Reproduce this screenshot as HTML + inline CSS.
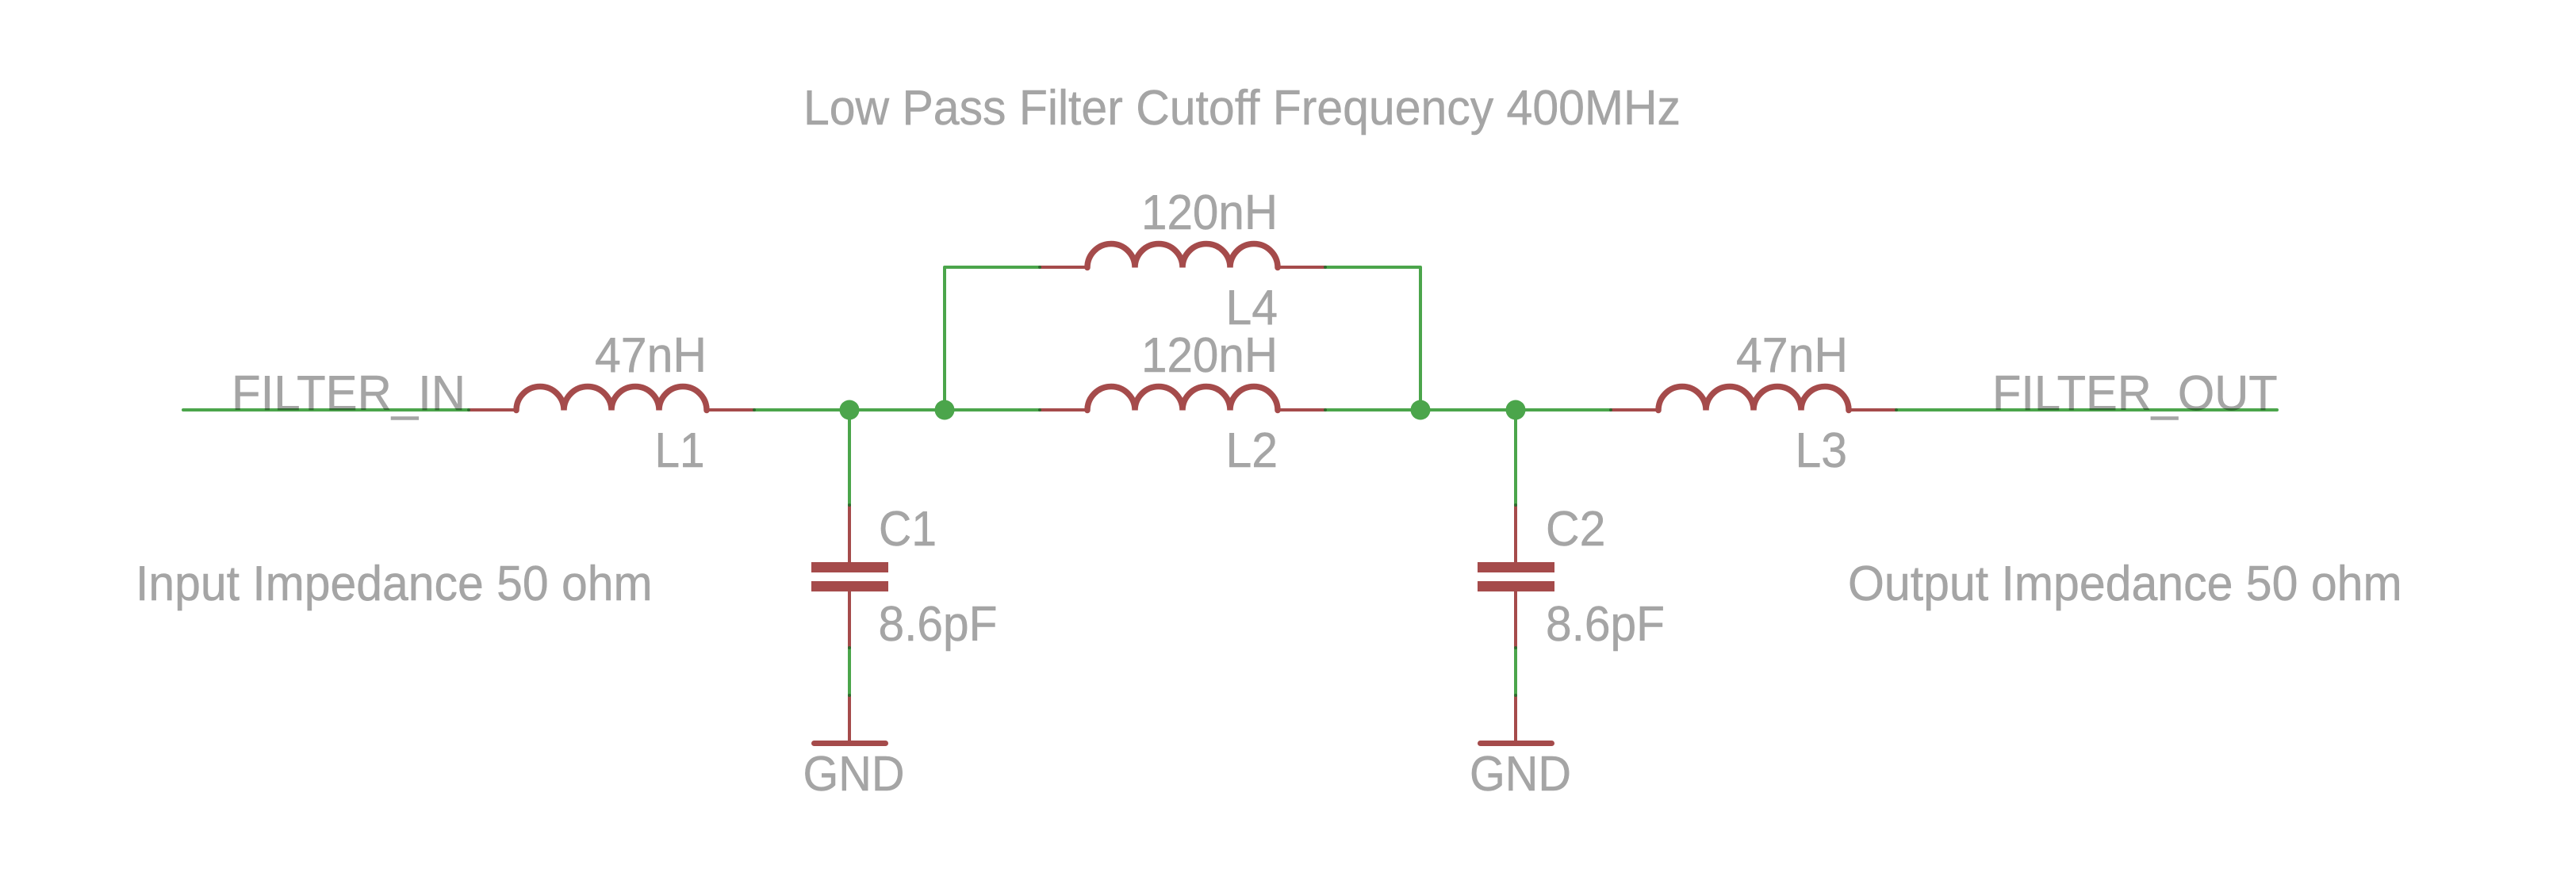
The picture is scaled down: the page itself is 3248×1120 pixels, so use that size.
<!DOCTYPE html>
<html><head><meta charset="utf-8"><style>
html,body{margin:0;padding:0;background:#fff;width:3248px;height:1120px;overflow:hidden}
svg{display:block}
text{font-family:"Liberation Sans",Arial,sans-serif;font-size:62px;fill:#a5a5a5;stroke:#a5a5a5;stroke-width:.5;mix-blend-mode:multiply}
.g{stroke:#4ba54b;stroke-width:4;fill:none;stroke-linecap:round;stroke-linejoin:round}
.r{stroke:#a54b4b;stroke-width:4;fill:none}
.c{stroke:#a54b4b;stroke-width:7.5;fill:none;stroke-linecap:round}
.d{fill:#306b30}
.j{fill:#4ba54b}
.p{fill:#a54b4b}
</style></head><body>
<svg xmlns="http://www.w3.org/2000/svg" width="3248" height="1120" viewBox="0 0 3248 1120">
<rect width="3248" height="1120" fill="#fff"/>
<!-- wires -->
<path class="g" d="M231 517H591M951 517H1311M1671 517H2031M2391 517H2871"/>
<path class="g" d="M1311 337H1191V517M1671 337H1791V517"/>
<path class="g" d="M1071 517V637M1071 817V877M1911 517V637M1911 817V877"/>
<!-- inductor pins -->
<path class="r" d="M591 517H651M891 517H951M1311 517H1371M1611 517H1671M2031 517H2091M2331 517H2391M1311 337H1371M1611 337H1671"/>
<!-- coils -->
<path class="c" d="M651 517.5A30 30 0 0 1 711 517.5A30 30 0 0 1 771 517.5A30 30 0 0 1 831 517.5A30 30 0 0 1 891 517.5"/>
<path class="c" d="M1371 517.5A30 30 0 0 1 1431 517.5A30 30 0 0 1 1491 517.5A30 30 0 0 1 1551 517.5A30 30 0 0 1 1611 517.5"/>
<path class="c" d="M1371 337.5A30 30 0 0 1 1431 337.5A30 30 0 0 1 1491 337.5A30 30 0 0 1 1551 337.5A30 30 0 0 1 1611 337.5"/>
<path class="c" d="M2091 517.5A30 30 0 0 1 2151 517.5A30 30 0 0 1 2211 517.5A30 30 0 0 1 2271 517.5A30 30 0 0 1 2331 517.5"/>
<!-- capacitors -->
<path class="r" d="M1071 637V709M1071 746V817M1071 877V937M1911 637V709M1911 746V817M1911 877V937"/>
<rect class="p" x="1023" y="709" width="97" height="13"/>
<rect class="p" x="1023" y="733" width="97" height="13"/>
<rect class="p" x="1863" y="709" width="97" height="13"/>
<rect class="p" x="1863" y="733" width="97" height="13"/>
<!-- ground -->
<rect class="p" x="1023" y="934" width="97" height="7" rx="3.5"/>
<rect class="p" x="1863" y="934" width="97" height="7" rx="3.5"/>
<!-- junctions -->
<circle class="j" cx="1071" cy="517" r="12.5"/>
<circle class="j" cx="1191" cy="517" r="12.5"/>
<circle class="j" cx="1791" cy="517" r="12.5"/>
<circle class="j" cx="1911" cy="517" r="12.5"/>
<!-- pin/wire overlaps -->
<g class="d">
<circle cx="591" cy="517" r="2"/><circle cx="951" cy="517" r="2"/><circle cx="1311" cy="517" r="2"/><circle cx="1671" cy="517" r="2"/><circle cx="2031" cy="517" r="2"/><circle cx="2391" cy="517" r="2"/><circle cx="1311" cy="337" r="2"/><circle cx="1671" cy="337" r="2"/>
<circle cx="1071" cy="637" r="2"/><circle cx="1071" cy="817" r="2"/><circle cx="1071" cy="877" r="2"/><circle cx="1911" cy="637" r="2"/><circle cx="1911" cy="817" r="2"/><circle cx="1911" cy="877" r="2"/>
</g>
<!-- labels -->
<text x="1013" y="157" textLength="1106" lengthAdjust="spacingAndGlyphs">Low Pass Filter Cutoff Frequency 400MHz</text>
<text x="1439" y="289" textLength="172" lengthAdjust="spacingAndGlyphs">120nH</text>
<text x="1545.5" y="409" textLength="65.6" lengthAdjust="spacingAndGlyphs">L4</text>
<text x="1439" y="469" textLength="172" lengthAdjust="spacingAndGlyphs">120nH</text>
<text x="1545.5" y="589" textLength="65.6" lengthAdjust="spacingAndGlyphs">L2</text>
<text x="750" y="469" textLength="141" lengthAdjust="spacingAndGlyphs">47nH</text>
<text x="825.5" y="589" textLength="63" lengthAdjust="spacingAndGlyphs">L1</text>
<text x="2189" y="469" textLength="141" lengthAdjust="spacingAndGlyphs">47nH</text>
<text x="2263.5" y="589" textLength="65.6" lengthAdjust="spacingAndGlyphs">L3</text>
<text x="292" y="517" textLength="295" lengthAdjust="spacingAndGlyphs">FILTER_IN</text>
<text x="2512" y="517" textLength="359.6" lengthAdjust="spacingAndGlyphs">FILTER_OUT</text>
<text x="171" y="757" textLength="651.5" lengthAdjust="spacingAndGlyphs">Input Impedance 50 ohm</text>
<text x="2330" y="757" textLength="698.6" lengthAdjust="spacingAndGlyphs">Output Impedance 50 ohm</text>
<text x="1108" y="688" textLength="73" lengthAdjust="spacingAndGlyphs">C1</text>
<text x="1949" y="688" textLength="75.4" lengthAdjust="spacingAndGlyphs">C2</text>
<text x="1107.5" y="808" textLength="150" lengthAdjust="spacingAndGlyphs">8.6pF</text>
<text x="1949" y="808" textLength="150" lengthAdjust="spacingAndGlyphs">8.6pF</text>
<text x="1012.5" y="997" textLength="128" lengthAdjust="spacingAndGlyphs">GND</text>
<text x="1853" y="997" textLength="128" lengthAdjust="spacingAndGlyphs">GND</text>
</svg>
</body></html>
